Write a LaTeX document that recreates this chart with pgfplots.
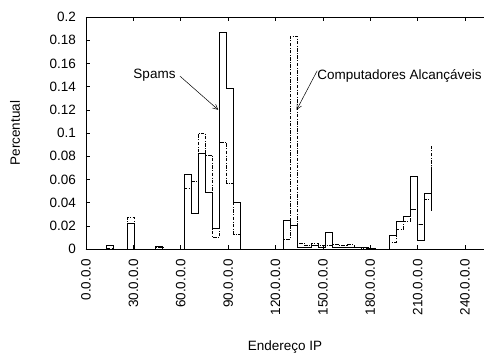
\documentclass[border=0pt]{standalone}
\usepackage{fontspec}
\setmainfont{Liberation Sans}
\usepackage{pgfplots}
\pgfplotsset{compat=1.18}
\usetikzlibrary{arrows.meta}
\newcommand{\fs}{\fontsize{13.5}{16}\selectfont}
\begin{document}
\begin{tikzpicture}
\begin{axis}[
  scale only axis, width=398pt, height=232pt,
  xmin=0, xmax=252, ymin=0, ymax=0.2,
  axis y line*=left,
  axis line style={line width=0.8pt},
  xtick={0,30,60,90,120,150,180,210,240},
  xticklabels={0.0.0.0,30.0.0.0,60.0.0.0,90.0.0.0,120.0.0.0,150.0.0.0,180.0.0.0,210.0.0.0,240.0.0.0},
  ytick={0,0.02,0.04,0.06,0.08,0.1,0.12,0.14,0.16,0.18,0.2},
  yticklabels={0,0.02,0.04,0.06,0.08,0.1,0.12,0.14,0.16,0.18,0.2},
  tick align=inside, major tick length=4pt,
  tick style={line width=0.6pt, black},
  tick label style={font=\fs, inner sep=0pt},
  xticklabel style={rotate=90, anchor=east},
  yticklabel style={anchor=east},
  xticklabel shift=10pt, yticklabel shift=10pt,
  label style={font=\fs},
  xlabel={Endereço IP}, ylabel={Percentual},
  xlabel style={at={(axis description cs:0.5,-0.4224)}, anchor=center},
  ylabel style={at={(axis description cs:-0.1784,0.5)}, anchor=center},
]
\addplot[const plot, black, line width=0.6pt, dash pattern=on 3.5pt off 1.5pt on 0.8pt off 1.5pt] coordinates {
(0,0) (12.84,0.001) (17.32,0) (26.28,0.027) (30.76,0) (44.20,0.0015) (48.68,0)
(62.12,0.052) (66.60,0.058) (71.08,0.100) (75.56,0.081) (80.04,0.010) (84.52,0.092)
(89.00,0.057) (93.48,0.013) (97.96,0) (124.84,0.0085) (129.32,0.1836) (133.80,0.005)
(138.28,0.003) (142.76,0.005) (147.24,0.0035) (151.72,0.003) (156.20,0.004) (160.68,0.003)
(165.16,0.004) (169.64,0.0015) (174.12,0.001) (178.60,0.0005) (183.08,0) (192.04,0.006)
(196.52,0.017) (201.00,0.024) (205.48,0.0345) (209.96,0.0216) (214.44,0.043) (218.92,0.089)
};
\addplot[const plot, black, line width=0.9pt] coordinates {
(0,0) (12.84,0.003) (17.32,0) (26.28,0.022) (30.76,0) (44.20,0.002) (48.68,0)
(62.12,0.064) (66.60,0.031) (71.08,0.082) (75.56,0.049) (80.04,0.018) (84.52,0.1865)
(89.00,0.138) (93.48,0.040) (97.96,0) (124.84,0.025) (129.32,0.020) (133.80,0.0015)
(142.76,0.003) (147.24,0.0017) (151.72,0.0144) (156.20,0.0015) (174.12,0.001)
(178.60,0.0005) (183.08,0) (192.04,0.012) (196.52,0.0236) (201.00,0.0284)
(205.48,0.0623) (209.96,0.0072) (214.44,0.048) (218.92,0.071) (218.92,0.033)
};
\node[font=\fs, anchor=east, inner sep=0pt] at (axis cs:56.8,0.1495) {Spams};
\draw[line width=0.5pt, -{Straight Barb[length=5pt,width=5pt]}] (axis cs:59.5,0.149) -- (axis cs:83.7,0.12);
\node[font=\fs, anchor=west, inner sep=0pt] at (axis cs:146.4,0.1495) {Computadores Alcançáveis};
\draw[line width=0.5pt, -{Straight Barb[length=5pt,width=5pt]}] (axis cs:146.4,0.1537) -- (axis cs:133.4,0.12);
\coordinate (bl) at (rel axis cs:0,0);
\coordinate (tr) at (rel axis cs:1,1);
\end{axis}
\pgfresetboundingbox
\path[use as bounding box] ([xshift=-86pt,yshift=-107pt]bl) rectangle ([yshift=17pt]tr);
\end{tikzpicture}
\end{document}
